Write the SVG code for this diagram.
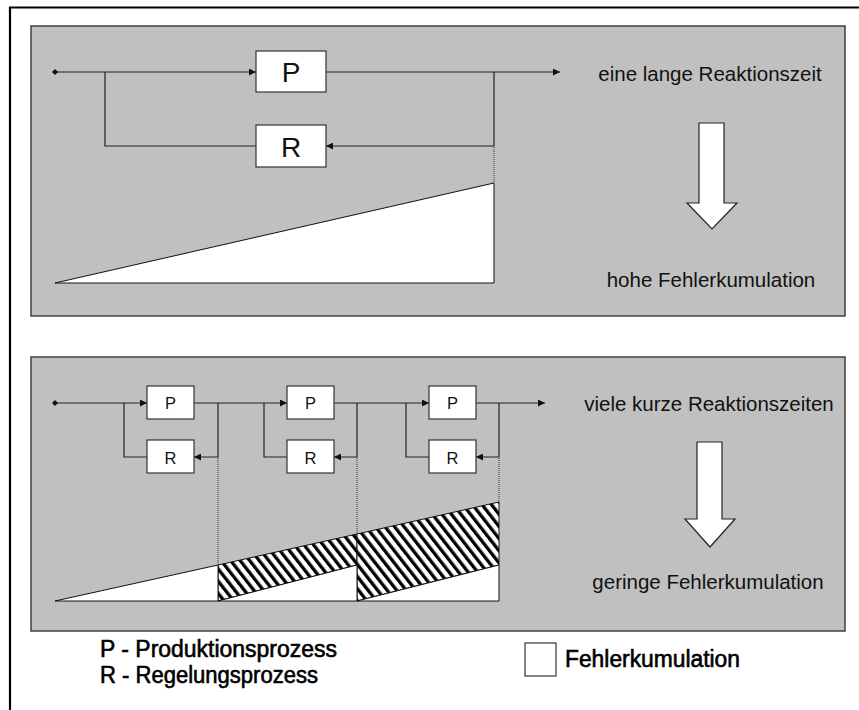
<svg xmlns="http://www.w3.org/2000/svg" width="859" height="710" viewBox="0 0 859 710">
<style>
.panel{fill:#c0c0c0;stroke:#404040;stroke-width:1.5}
.box{fill:#fff;stroke:#333;stroke-width:1.2}
.ln{fill:none;stroke:#222;stroke-width:1.2}
.dot{fill:none;stroke:#333;stroke-width:1;stroke-dasharray:1 1}
.lbl{font-family:"Liberation Sans",Arial,sans-serif;fill:#111;text-anchor:middle}
.big{font-size:28px}
.small{font-size:16.5px}
.side{font-size:20.5px}
.leg{font-family:"Liberation Sans",Arial,sans-serif;font-size:23px;fill:#000;stroke:#000;stroke-width:0.6}
.tri{fill:#fff;stroke:#111;stroke-width:1}
.hat{fill:url(#hatch);stroke:#111;stroke-width:1}
.harrow{fill:#fff;stroke:#222;stroke-width:1.2}
</style>
<defs>
<marker id="ah" viewBox="0 0 10 10" refX="10" refY="5" markerWidth="8" markerHeight="7" markerUnits="userSpaceOnUse" orient="auto">
<path d="M0,0 L10,5 L0,10 z" fill="#111"/>
</marker>
<pattern id="hatch" width="7.5" height="7.5" patternUnits="userSpaceOnUse" patternTransform="rotate(-38)">
<rect width="7.5" height="7.5" fill="#fff"/>
<rect width="3.3" height="7.5" fill="#000"/>
</pattern>
</defs>
<rect x="0" y="0" width="859" height="710" fill="#fff"/>
<path d="M10,712 L10,7.5 L860,7.5" fill="none" stroke="#000" stroke-width="2.2"/>

<g id="panel-top">
<rect class="panel" x="31" y="26" width="814" height="290"/>
</g>
<g id="panel-bottom">
<rect class="panel" x="31" y="357" width="814" height="274"/>
</g>

<g id="connectors">
<line class="ln" x1="55" y1="72" x2="256" y2="72" marker-end="url(#ah)"/>
<polyline class="ln" points="105,72 105,146 256,146"/>
<line class="ln" x1="326" y1="72" x2="560" y2="72" marker-end="url(#ah)"/>
<polyline class="ln" points="494,72 494,146 326,146" marker-end="url(#ah)"/>
<line class="dot" x1="494" y1="147" x2="494" y2="183"/>
<line class="ln" x1="55" y1="403" x2="147" y2="403" marker-end="url(#ah)"/>
<polyline class="ln" points="124,403 124,457 147,457"/>
<line class="ln" x1="194" y1="403" x2="287" y2="403" marker-end="url(#ah)"/>
<polyline class="ln" points="218,403 218,457 194,457" marker-end="url(#ah)"/>
<polyline class="ln" points="264,403 264,457 287,457"/>
<line class="ln" x1="334" y1="403" x2="429" y2="403" marker-end="url(#ah)"/>
<polyline class="ln" points="357,403 357,457 334,457" marker-end="url(#ah)"/>
<polyline class="ln" points="406,403 406,457 429,457"/>
<line class="ln" x1="476" y1="403" x2="545" y2="403" marker-end="url(#ah)"/>
<polyline class="ln" points="499,403 499,457 476,457" marker-end="url(#ah)"/>
<line class="dot" x1="218" y1="458" x2="218" y2="565"/>
<line class="dot" x1="357" y1="458" x2="357" y2="534"/>
<line class="dot" x1="499" y1="458" x2="499" y2="502"/>
</g>

<g id="start-top"><path d="M55,69 L58,72 L55,75 L52,72 z" fill="#111"/></g>
<g id="start-bottom"><path d="M55,400 L58,403 L55,406 L52,403 z" fill="#111"/></g>

<g id="P-top"><rect class="box" x="256" y="51" width="70" height="41"/><text class="lbl big" x="291" y="82">P</text></g>
<g id="R-top"><rect class="box" x="256" y="125" width="70" height="42"/><text class="lbl big" x="291" y="157">R</text></g>

<g id="P1"><rect class="box" x="147" y="386" width="47" height="33"/><text class="lbl small" x="170.5" y="409">P</text></g>
<g id="R1"><rect class="box" x="147" y="440" width="47" height="33"/><text class="lbl small" x="170.5" y="463.5">R</text></g>
<g id="P2"><rect class="box" x="287" y="386" width="47" height="33"/><text class="lbl small" x="310.5" y="409">P</text></g>
<g id="R2"><rect class="box" x="287" y="440" width="47" height="33"/><text class="lbl small" x="310.5" y="463.5">R</text></g>
<g id="P3"><rect class="box" x="429" y="386" width="47" height="33"/><text class="lbl small" x="452.5" y="409">P</text></g>
<g id="R3"><rect class="box" x="429" y="440" width="47" height="33"/><text class="lbl small" x="452.5" y="463.5">R</text></g>

<g id="chart-top">
<polygon class="tri" points="55,283 494,183 494,283"/>
</g>
<g id="chart-bottom">
<polygon class="hat" points="218,565 357,534 357,565 218,601"/>
<polygon class="hat" points="357,534 499,502 499,565 357,601"/>
<polygon class="tri" points="55,601 218,565 218,601"/>
<polygon class="tri" points="218,601 357,565 357,601"/>
<polygon class="tri" points="357,601 499,565 499,601"/>
</g>

<g id="text-top">
<text class="lbl side" x="710" y="81">eine lange Reaktionszeit</text>
<text class="lbl side" x="711" y="287">hohe Fehlerkumulation</text>
</g>
<g id="arrow-top"><polygon class="harrow" points="699,123 724,123 724,203 737,203 712,229 687,203 699,203"/></g>

<g id="text-bottom">
<text class="lbl side" x="709" y="411">viele kurze Reaktionszeiten</text>
<text class="lbl side" x="708" y="589">geringe Fehlerkumulation</text>
</g>
<g id="arrow-bottom"><polygon class="harrow" points="697,442 722,442 722,519 735,519 710,547 685,519 697,519"/></g>

<g id="legend">
<text class="leg" x="100" y="657" textLength="237" lengthAdjust="spacingAndGlyphs">P - Produktionsprozess</text>
<text class="leg" x="100" y="683" textLength="218" lengthAdjust="spacingAndGlyphs">R - Regelungsprozess</text>
<rect x="525" y="643" width="31" height="33" fill="#fff" stroke="#333" stroke-width="1.2"/>
<text class="leg" x="565" y="667" textLength="175" lengthAdjust="spacingAndGlyphs">Fehlerkumulation</text>
</g>
</svg>
